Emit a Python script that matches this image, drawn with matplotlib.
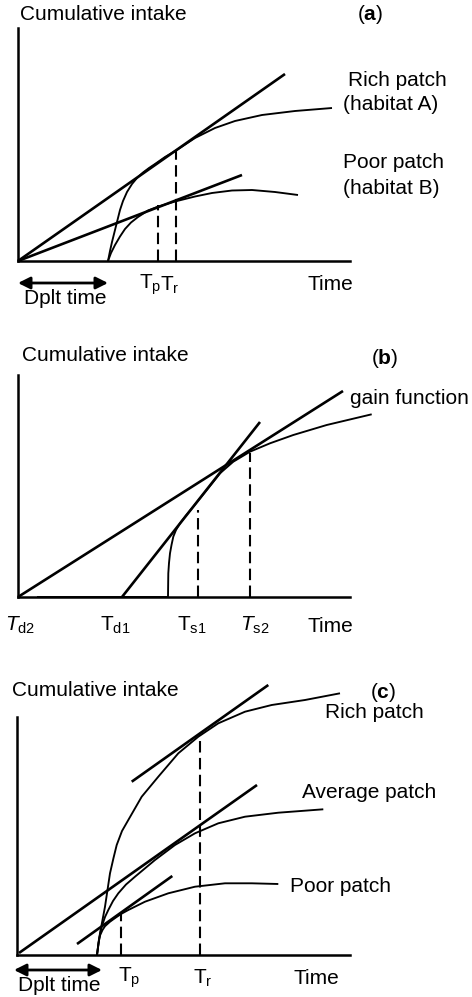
import numpy as np
import matplotlib
matplotlib.use("Agg")
import matplotlib.pyplot as plt

plt.rcParams['font.family'] = ['Liberation Sans', 'DejaVu Sans']
plt.rcParams['mathtext.fontset'] = 'custom'
plt.rcParams['mathtext.rm'] = 'Liberation Sans'
plt.rcParams['mathtext.it'] = 'Liberation Sans:italic'
plt.rcParams['mathtext.bf'] = 'Liberation Sans:bold'

# ---- panel (a): two habitats -------------------------------------------
a_rich_x = [90, 92, 94, 96.5, 99, 102, 105, 109, 114, 119, 125, 131, 137, 147, 158, 177, 197, 217, 244, 277, 314]
a_rich_y = [0, 10, 19, 29, 39, 51, 60, 69, 77, 83, 88.5, 93, 97, 104, 110.5, 123, 133, 140, 146, 150, 153]
a_poor_x = [90, 93, 97, 102, 107, 113, 120, 130, 140, 157, 177, 194, 214, 234, 257, 280]
a_poor_y = [0, 8, 16, 24.5, 32, 38.5, 44, 50.5, 54.4, 59.5, 64.5, 68, 70.5, 71, 69, 66]
a_rich_tan = ([0, 267], [0, 187])
a_poor_tan = ([0, 224], [0, 86])
a_drop_x = [140, 158]      # Tp, Tr
a_drop_y = [56, 110]

# ---- panel (b): gain function ------------------------------------------
b_gain_x = [19, 150, 150.3, 151, 152, 153.5, 155.3, 158, 162, 168, 175.3, 188.7, 202, 215.3, 232, 252, 275.3, 308.7, 353.7]
b_gain_y = [0, 0, 23.7, 34, 43.7, 52, 60.3, 67, 73.7, 81.5, 90.3, 107, 123.7, 135.3, 145.3, 153.7, 162, 172, 182.7]
b_tan_d2 = ([0, 325], [0, 206])
b_tan_d1 = ([104, 242], [0, 175])
b_drop_x = [180, 232]      # Ts1, Ts2
b_drop_y = [87, 144]

# ---- panel (c): three patch types --------------------------------------
c_rich_x = [80, 83, 88, 93, 96.5, 99.7, 105, 111.3, 124.7, 141.3, 161.3, 181.3, 201.3, 228, 254.7, 288, 323]
c_rich_y = [0, 21.7, 48.3, 81.7, 97, 110, 124, 135, 158.3, 178.3, 201.7, 218.3, 231.7, 243.3, 250, 255, 261.7]
c_avg_x = [80, 82, 84.7, 88, 91.3, 96, 101.3, 109, 118, 138, 158, 178, 201.3, 228, 261.3, 306.3]
c_avg_y = [0, 16, 28.3, 38, 45, 54, 61.7, 70.5, 78.3, 95, 110, 121.7, 131.7, 138.3, 142.3, 145.7]
c_poor_x = [80, 81.5, 83, 85.5, 88, 93, 98, 104, 111.3, 128, 151.3, 178, 208, 234.7, 261.3]
c_poor_y = [0, 12, 19.5, 25, 28.8, 33.3, 36.9, 41, 45, 53.3, 61.7, 68.3, 71.7, 71.7, 71]
c_rich_tan = ([114.7, 251.3], [173.3, 270])
c_avg_tan = ([2, 240], [2, 170])
c_poor_tan = ([60, 155.3], [11, 79])
c_drop_x = [104, 183]      # Tp, Tr
c_drop_y = [42, 220]

W, H = 472, 997
fig = plt.figure(figsize=(W / 100, H / 100), dpi=100)


def make_ax(left, top, right, bottom):
    ax = fig.add_axes([left / W, (H - bottom) / H, (right - left) / W, (bottom - top) / H])
    ax.set_xlim(0, right - left)
    ax.set_ylim(0, bottom - top)
    for s in ['top', 'right']:
        ax.spines[s].set_visible(False)
    for s in ['left', 'bottom']:
        ax.spines[s].set_linewidth(1.8)
    ax.set_xticks([])
    ax.set_yticks([])
    ax.patch.set_alpha(0)
    return ax


curve_kw = dict(color='black', lw=1.35, clip_on=False, solid_capstyle='butt', solid_joinstyle='round')
tan_kw = dict(color='black', lw=1.9, clip_on=False, solid_capstyle='butt')
dash_kw = dict(color='black', lw=1.5, ls=(0, (5.5, 2.6)), clip_on=False)
fs = 15


def drops(ax, xs, ys):
    for x, y in zip(xs, ys):
        ax.plot([x, x], [0, y], **dash_kw)


def dplt_arrow(ax, x0, x1, y):
    ax.annotate('', xy=(x0, y), xytext=(x1, y), xycoords='data',
                arrowprops=dict(arrowstyle='<|-|>', color='black', lw=2.0,
                                mutation_scale=18, shrinkA=0, shrinkB=0),
                annotation_clip=False)


# (a)
ax = make_ax(18, 28, 350, 261)
ax.plot(a_rich_x, a_rich_y, **curve_kw)
ax.plot(a_poor_x, a_poor_y, **curve_kw)
ax.plot(*a_rich_tan, **tan_kw)
ax.plot(*a_poor_tan, **tan_kw)
drops(ax, a_drop_x, a_drop_y)
ax.text(2, 246, 'Cumulative intake', fontsize=fs, va='center')
ax.text(352, 246, r'($\mathbf{a}$)', fontsize=fs, va='center', ha='center')
ax.text(330, 181, 'Rich patch', fontsize=fs, va='center')
ax.text(325, 156, '(habitat A)', fontsize=fs, va='center')
ax.text(325, 98, 'Poor patch', fontsize=fs, va='center')
ax.text(325, 73, '(habitat B)', fontsize=fs, va='center')
ax.text(290, -23, 'Time', fontsize=fs, va='center')
ax.text(132, -24, r'$\mathrm{T_p}$', fontsize=fs, va='center', ha='center')
ax.text(152, -24, r'$\mathrm{T_r}$', fontsize=fs, va='center', ha='center')
dplt_arrow(ax, 0, 90, -22)
ax.text(6, -37, 'Dplt time', fontsize=fs, va='center')

# (b)
ax = make_ax(18, 375, 350, 597)
ax.plot(b_gain_x, b_gain_y, **curve_kw)
ax.plot(*b_tan_d2, **tan_kw)
ax.plot(*b_tan_d1, **tan_kw)
drops(ax, b_drop_x, b_drop_y)
ax.text(4, 242, 'Cumulative intake', fontsize=fs, va='center')
ax.text(367, 239, r'($\mathbf{b}$)', fontsize=fs, va='center', ha='center')
ax.text(332, 199, 'gain function', fontsize=fs, va='center')
ax.text(-13, -28, r'$T_{\mathrm{d2}}$', fontsize=fs, va='center')
ax.text(82, -28, r'$\mathrm{T_{d1}}$', fontsize=fs, va='center')
ax.text(159, -28, r'$\mathrm{T_{s1}}$', fontsize=fs, va='center')
ax.text(222, -28, r'$T_{\mathrm{s2}}$', fontsize=fs, va='center')
ax.text(290, -29, 'Time', fontsize=fs, va='center')

# (c)
ax = make_ax(17, 717, 350, 955)
ax.plot(c_rich_x, c_rich_y, **curve_kw)
ax.plot(c_avg_x, c_avg_y, **curve_kw)
ax.plot(c_poor_x, c_poor_y, **curve_kw)
ax.plot(*c_rich_tan, **tan_kw)
ax.plot(*c_avg_tan, **tan_kw)
ax.plot(*c_poor_tan, **tan_kw)
drops(ax, c_drop_x, c_drop_y)
ax.text(-5, 265, 'Cumulative intake', fontsize=fs, va='center')
ax.text(366, 263, r'($\mathbf{c}$)', fontsize=fs, va='center', ha='center')
ax.text(308, 242, 'Rich patch', fontsize=fs, va='center')
ax.text(285, 163, 'Average patch', fontsize=fs, va='center')
ax.text(273, 69, 'Poor patch', fontsize=fs, va='center')
ax.text(101, -23, r'$\mathrm{T_p}$', fontsize=fs, va='center')
ax.text(176, -23, r'$\mathrm{T_r}$', fontsize=fs, va='center')
ax.text(276, -23, 'Time', fontsize=fs, va='center')
dplt_arrow(ax, -3, 85, -15)
ax.text(1, -30, 'Dplt time', fontsize=fs, va='center')

fig.savefig('out.png', dpi=100)
